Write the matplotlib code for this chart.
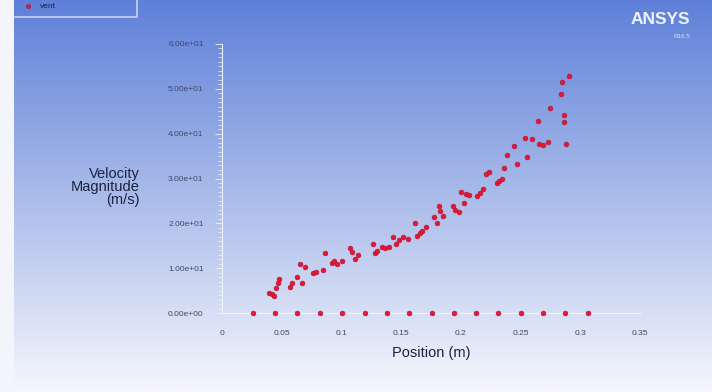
import numpy as np
import matplotlib
matplotlib.use('Agg')
from matplotlib import pyplot as plt

# vent profile: position (m) vs velocity magnitude (m/s)
position = [
    0.0396, 0.0419, 0.0440, 0.0457, 0.0473, 0.0480, 0.0572, 0.0588, 0.0634, 0.0657,
    0.0672, 0.0700, 0.0765, 0.0788, 0.0850, 0.0864, 0.0926, 0.0940, 0.0964, 0.1003,
    0.1070, 0.1087, 0.1118, 0.1140, 0.1264, 0.1280, 0.1300, 0.1340, 0.1370, 0.1400,
    0.1430, 0.1456, 0.1487, 0.1517, 0.1556, 0.1617, 0.1633, 0.1656, 0.1679, 0.1710,
    0.1779, 0.1800, 0.1817, 0.1825, 0.1848, 0.1932, 0.1955, 0.1986, 0.2000, 0.2025,
    0.2048, 0.2070, 0.2140, 0.2163, 0.2186, 0.2209, 0.2240, 0.2300, 0.2324, 0.2347,
    0.2363, 0.2386, 0.2447, 0.2470, 0.2539, 0.2555, 0.2600, 0.2647, 0.2655, 0.2685,
    0.2731, 0.2751, 0.2839, 0.2847, 0.2862, 0.2862, 0.2885, 0.2908,
]
velocity = [
    4.5, 4.2, 3.9, 5.6, 6.8, 7.6, 5.9, 6.6, 8.0, 10.9,
    6.8, 10.2, 8.9, 9.1, 9.7, 13.4, 11.2, 11.7, 10.9, 11.5,
    14.5, 13.6, 12.0, 13.0, 15.4, 13.4, 13.8, 14.8, 14.5, 14.8,
    17.0, 15.5, 16.3, 16.9, 16.5, 20.0, 17.2, 17.8, 18.4, 19.1,
    21.5, 20.0, 23.9, 22.8, 21.7, 23.9, 23.0, 22.5, 27.1, 24.5,
    26.5, 26.4, 26.2, 26.7, 27.7, 31.0, 31.4, 29.1, 29.5, 29.9,
    32.3, 35.2, 37.2, 33.2, 39.0, 34.7, 38.9, 42.8, 37.8, 37.5,
    38.1, 45.7, 48.8, 51.6, 44.2, 42.5, 37.7, 52.8,
]
# wall nodes at zero velocity
wall_position = [
    0.0261, 0.0446, 0.0634, 0.0822, 0.1007, 0.1195, 0.1379, 0.1567,
    0.1756, 0.1940, 0.2128, 0.2313, 0.2501, 0.2685, 0.2874, 0.3062,
]
wall_velocity = [0.0] * len(wall_position)

x_ticks = [0, 0.05, 0.1, 0.15, 0.2, 0.25, 0.3, 0.35]
x_tick_labels = ['0', '0.05', '0.1', '0.15', '0.2', '0.25', '0.3', '0.35']
y_ticks = [0, 10, 20, 30, 40, 50, 60]

RED = '#e8162e'
RED_EDGE = '#a8143a'

W, H = 712, 392
fig = plt.figure(figsize=(W / 100, H / 100), dpi=100)

# background gradient (blue at top to near white at bottom)
bg = fig.add_axes([0, 0, 1, 1], zorder=0)
top = np.array([94, 128, 216]) / 255
bottom = np.array([246, 247, 252]) / 255
t = np.linspace(0, 1, 256)[:, None]
grad = (top * (1 - t) + bottom * t)[:, None, :]
bg.imshow(grad, aspect='auto', extent=[0, W, H, 0])
bg.add_patch(plt.Rectangle((0, 0), 14, H, color='#f3f5fb', lw=0))
bg.plot([15, 137, 137], [17, 17, 0], color='#c8d3f0', lw=1.2)
bg.plot([28], [6], 'o', ms=3, color=RED, mec=RED_EDGE, mew=0.4)
bg.text(40, 6, 'vent', fontsize=6, color='#1c2240', va='center', family='Liberation Sans')
bg.text(690, 19, 'ANSYS', fontsize=12.5, fontweight='bold', color='#eef2fb',
        ha='right', va='center', family='Liberation Sans')
bg.text(690, 36, 'R16.5', fontsize=4.5, color='#dce4f7', ha='right', va='center',
        family='Liberation Sans')
bg.text(140, 187, 'Velocity\nMagnitude\n(m/s)', fontsize=10.5, color='#1c2240',
        ha='right', va='center', linespacing=0.95, family='Liberation Sans')
bg.set_xlim(0, W)
bg.set_ylim(H, 0)
bg.axis('off')

x0, x1 = 221.7, 640
y0, y1 = 313, 44
ax = fig.add_axes([x0 / W, 1 - y0 / H, (x1 - x0) / W, (y0 - y1) / H], zorder=1)
ax.patch.set_alpha(0)
ax.scatter(position, velocity, s=12, color=RED, edgecolors=RED_EDGE,
           linewidths=0.4, clip_on=False, zorder=3)
ax.scatter(wall_position, wall_velocity, s=12, color=RED, edgecolors=RED_EDGE,
           linewidths=0.4, clip_on=False, zorder=3)
ax.set_xlim(0, 0.35)
ax.set_ylim(0, 60)

for s in ['top', 'right']:
    ax.spines[s].set_visible(False)
ax.spines['left'].set_color('#eef2fb')
ax.spines['bottom'].set_color('#f4f6fc')
ax.spines['left'].set_linewidth(0.8)
ax.spines['bottom'].set_linewidth(0.8)

ax.set_yticks(y_ticks)
ax.set_yticklabels([f'{v:.2e}' for v in y_ticks])
ax.set_yticks(np.arange(0, 61, 1), minor=True)
ax.tick_params(axis='y', which='major', length=5, width=0.6, color='#eef2fb',
               labelsize=6, labelcolor='#3e4866', pad=8)
ax.tick_params(axis='y', which='minor', length=3, width=0.5, color='#eef2fb')
ax.set_xticks(x_ticks)
ax.set_xticklabels(x_tick_labels)
ax.tick_params(axis='x', length=0, labelsize=6, labelcolor='#3e4866', pad=12)
for lbl in ax.get_xticklabels() + ax.get_yticklabels():
    lbl.set_family('Liberation Sans')
ax.set_xlabel('Position (m)', fontsize=10.5, color='#1c2240', family='Liberation Sans',
              labelpad=7)

fig.savefig('out.png', dpi=100)
